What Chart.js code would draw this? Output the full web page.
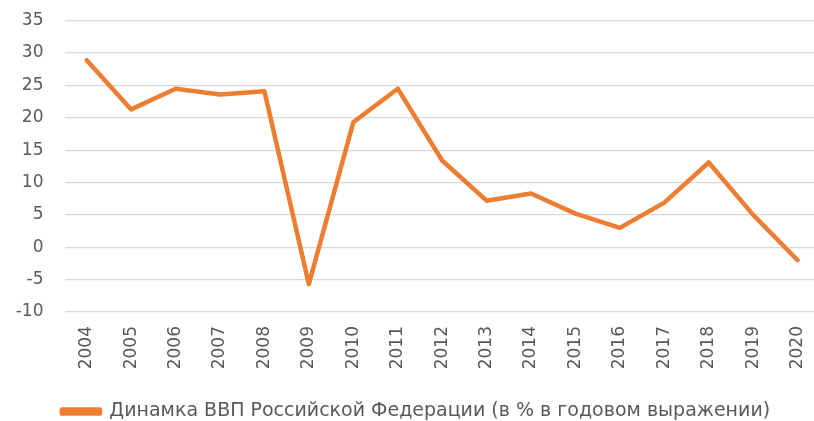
<!DOCTYPE html>
<html>
<head>
<meta charset="utf-8">
<script src="https://cdn.jsdelivr.net/npm/chart.js@4/dist/chart.umd.min.js"></script>
<style>
  html, body { margin: 0; padding: 0; background: #fff; overflow: hidden; }
  #wrap { width: 832px; height: 431px; }
</style>
</head>
<body>
<div id="wrap"><canvas id="chart-1" width="832" height="431"></canvas></div>
<script>
const years = ["2004", "2005", "2006", "2007", "2008", "2009", "2010", "2011", "2012",
  "2013", "2014", "2015", "2016", "2017", "2018", "2019", "2020"];
const gdpGrowth = [28.9, 21.3, 24.5, 23.6, 24.1, -5.7, 19.3, 24.5, 13.4,
  7.2, 8.3, 5.2, 3.0, 6.9, 13.1, 5.0, -2.0];
const seriesName = "Динамка ВВП Российской Федерации (в % в годовом выражении)";
const yMin = -10;
const yMax = 35;
const yStep = 5;

const grey = "#595959";
const orange = "#ED7D31";

const ctx1 = document.getElementById("chart-1");

const mychart = new Chart(ctx1, {
  type: "line",
  data: {
    labels: years,
    datasets: [
      {
        label: seriesName,
        data: gdpGrowth,
        borderColor: orange,
        backgroundColor: orange,
        borderWidth: 4.5,
        pointRadius: 0,
        tension: 0,
        borderCapStyle: "round",
        borderJoinStyle: "round",
      },
    ],
  },
  options: {
    responsive: false,
    animation: false,
    layout: { padding: { top: 20.7, left: 0, right: 0, bottom: 0 } },
    plugins: {
      tooltip: { enabled: false },
      legend: {
        position: "bottom",
        labels: {
          color: grey,
          font: { family: "DejaVu Sans", size: 19 },
          boxWidth: 38,
          boxHeight: 4,
          padding: 6,
        },
      },
    },
    scales: {
      x: {
        offset: true,
        grid: { display: false, drawTicks: false },
        border: { display: false },
        ticks: {
          color: grey,
          font: { family: "DejaVu Sans", size: 17 },
          minRotation: 90,
          maxRotation: 90,
          padding: 14,
        },
        afterFit: (scale) => { scale.height = 84; },
      },
      y: {
        min: yMin,
        max: yMax,
        grid: {
          color: "#d9d9d9",
          lineWidth: 1.3,
          drawTicks: true,
          tickLength: 18,
          tickColor: "rgba(0,0,0,0)",
        },
        border: { display: false },
        ticks: {
          stepSize: yStep,
          color: grey,
          font: { family: "DejaVu Sans", size: 17 },
          padding: 3,
        },
        afterFit: (scale) => { scale.width = 64.5; },
      },
    },
  },
});
</script>
</body>
</html>
